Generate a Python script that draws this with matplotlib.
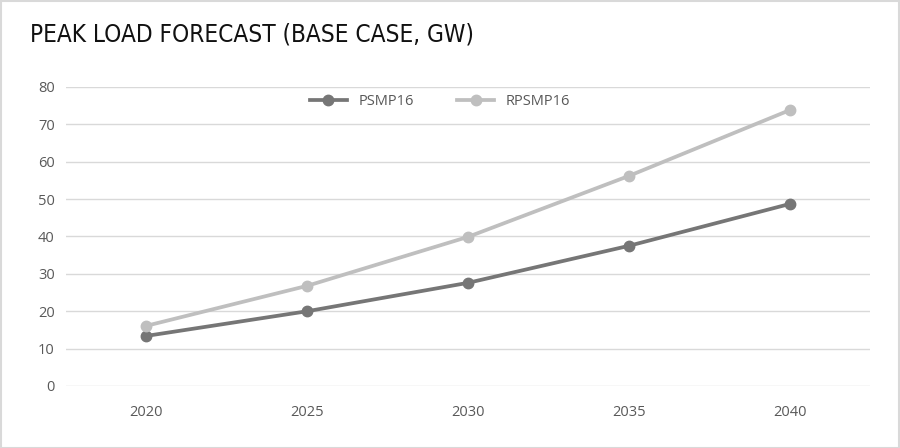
import matplotlib.pyplot as plt
from matplotlib import font_manager
from matplotlib.patches import Rectangle

years = ["2020", "2025", "2030", "2035", "2040"]
psmp16 = [13.4, 20.0, 27.6, 37.5, 48.7]
rpsmp16 = [16.1, 26.8, 39.9, 56.2, 73.8]
yticks = [0, 10, 20, 30, 40, 50, 60, 70, 80]

# pick a narrow font for the title if one is installed
narrow = [f for f in font_manager.fontManager.ttflist
          if ("Narrow" in f.name or "Condensed" in f.name or f.stretch == "condensed")]
narrow.sort(key=lambda f: (f.style != "normal", "Bold" in f.fname and "Narrow" not in f.fname))
title_props = font_manager.FontProperties(fname=narrow[0].fname) if narrow else \
    font_manager.FontProperties(family="DejaVu Sans")

fig = plt.figure(figsize=(9, 4.48), dpi=100)
ax = fig.add_axes([0.0733, 0.1384, 0.8937, 0.6676])

x = list(range(len(years)))
ax.plot(x, psmp16, color="#767676", lw=2.7, marker="o", ms=7.5, label="PSMP16", zorder=3)
ax.plot(x, rpsmp16, color="#BFBFBF", lw=2.7, marker="o", ms=7.5, label="RPSMP16", zorder=3)

ax.set_xlim(-0.5, len(years) - 0.5)
ax.set_ylim(0, 80)
ax.set_xticks(x)
ax.set_xticklabels(years)
ax.set_yticks(yticks)
ax.grid(axis="y", color="#D9D9D9", lw=1)
ax.set_axisbelow(True)
for s in ax.spines.values():
    s.set_visible(False)
ax.tick_params(length=0, labelsize=10.5, colors="#595959", pad=8)
ax.tick_params(axis="x", pad=14)
for lbl in ax.get_xticklabels() + ax.get_yticklabels():
    lbl.set_family(["Open Sans", "DejaVu Sans"])

leg = ax.legend(loc="upper center", bbox_to_anchor=(0.465, 1.0), ncol=2, frameon=False,
                fontsize=10.5, handlelength=2.5, columnspacing=3.0, borderaxespad=0.1)
for t in leg.get_texts():
    t.set_color("#595959")
    t.set_family(["Open Sans", "DejaVu Sans"])

title_props.set_size(17.5)
fig.text(0.033, 0.924, "PEAK LOAD FORECAST (BASE CASE, GW)", fontproperties=title_props,
         color="#111111", va="center", ha="left")

fig.patches.append(Rectangle((0.001, 0.001), 0.998, 0.997, transform=fig.transFigure,
                             fill=False, edgecolor="#D9D9D9", lw=1.5))

fig.savefig("out.png", dpi=100)
